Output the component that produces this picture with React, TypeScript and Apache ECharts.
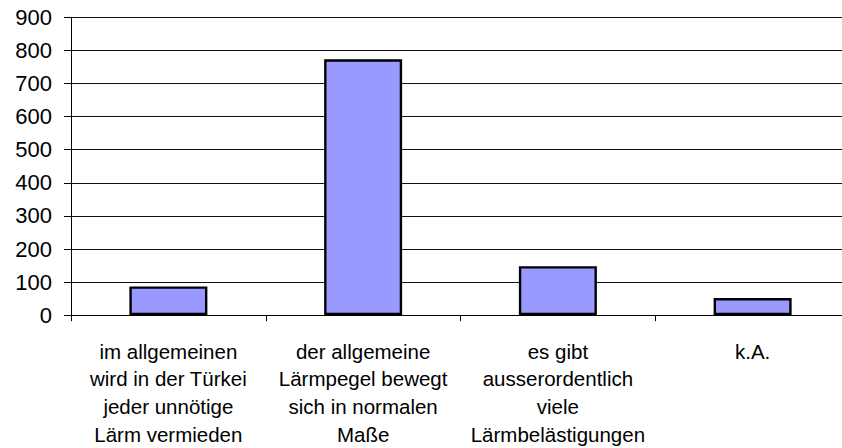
import React, { useEffect, useRef } from "react";
import * as echarts from "echarts";

const categories: string[] = [
  "im allgemeinen\nwird in der Türkei\njeder unnötige\nLärm vermieden",
  "der allgemeine\nLärmpegel bewegt\nsich in normalen\nMaße",
  "es gibt\nausserordentlich\nviele\nLärmbelästigungen",
  "k.A.",
];
const values: number[] = [87, 773, 148, 52];
const yTicks = { min: 0, max: 900, interval: 100 };

export default function App() {
  const ref = useRef<HTMLDivElement>(null);
  useEffect(() => {
    if (!ref.current) return;
    document.body.style.overflow = "hidden";
    const chart = echarts.init(ref.current, undefined, { renderer: "svg" });
    chart.setOption({
      animation: false,
      backgroundColor: "#ffffff",
      grid: { left: 71, right: 0, top: 17.3, bottom: 132.3, containLabel: false },
      xAxis: {
        type: "category",
        data: categories,
        boundaryGap: true,
        axisLine: { show: true, lineStyle: { color: "#000", width: 1 } },
        axisTick: { show: true, length: 6, alignWithLabel: false, lineStyle: { color: "#000" } },
        axisLabel: {
          interval: 0,
          margin: 22,
          fontFamily: "Liberation Sans, Arial, sans-serif",
          fontSize: 20.5,
          lineHeight: 27.7,
          color: "#000",
          align: "center",
        },
        splitLine: { show: false },
      },
      yAxis: {
        type: "value",
        min: yTicks.min,
        max: yTicks.max,
        interval: yTicks.interval,
        axisLine: { show: true, lineStyle: { color: "#000", width: 1 } },
        axisTick: { show: true, length: 7, lineStyle: { color: "#000" } },
        axisLabel: {
          margin: 19,
          fontFamily: "Liberation Sans, Arial, sans-serif",
          fontSize: 22,
          color: "#000",
        },
        splitLine: { show: true, lineStyle: { color: "#111", width: 1 } },
      },
      series: [
        {
          type: "bar",
          data: values,
          barWidth: 78,
          itemStyle: { color: "#9999FF", borderColor: "#000", borderWidth: 2.4 },
        },
      ],
    });
    return () => chart.dispose();
  }, []);
  return (
    <div
      ref={ref}
      style={{ position: "absolute", left: 0, top: 0, width: 850, height: 448 }}
    />
  );
}
